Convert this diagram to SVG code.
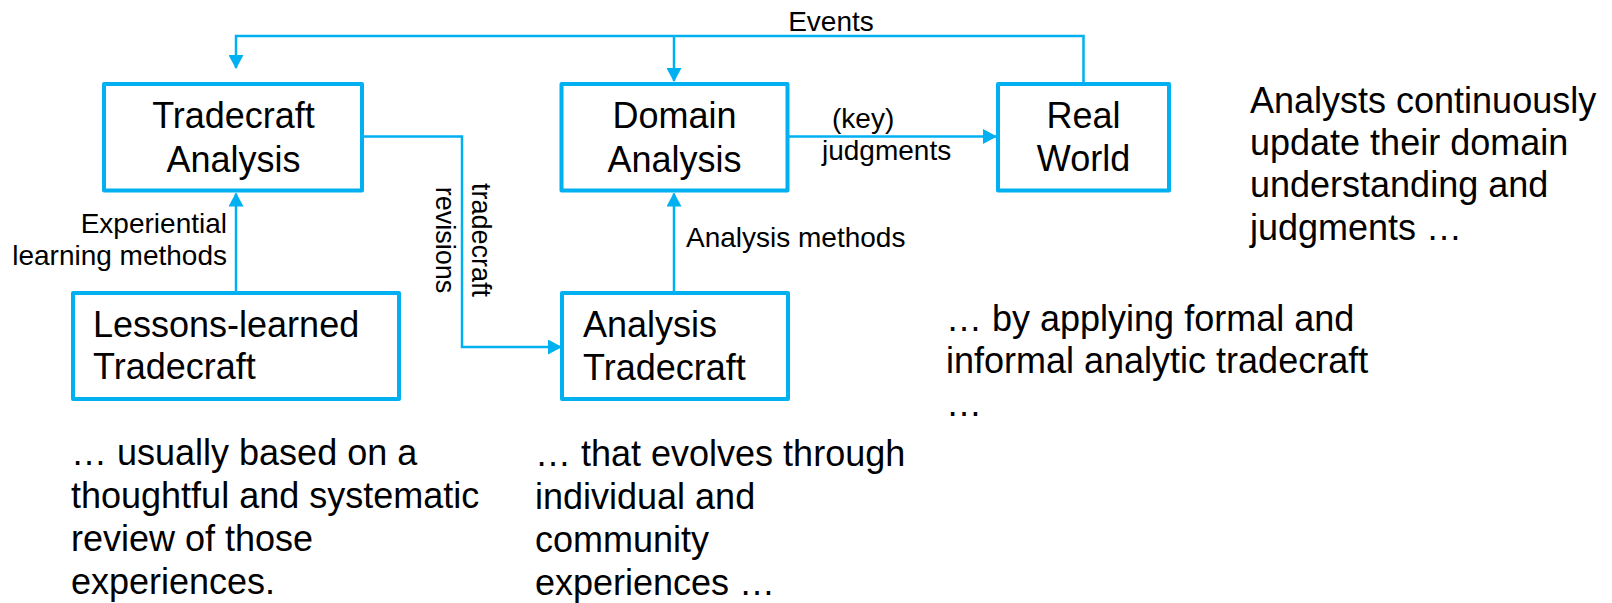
<svg xmlns="http://www.w3.org/2000/svg" width="1612" height="603" viewBox="0 0 1612 603">
<style>
  .box { fill: #FFFFFF; stroke: #00B0F0; stroke-width: 4; stroke-linejoin: round; }
  .conn { fill: none; stroke: #00B0F0; stroke-width: 2.5; }
  .t36 { font-family: "Liberation Sans", Arial, sans-serif; font-size: 36px; fill: #000000; }
  .t28 { font-family: "Liberation Sans", Arial, sans-serif; font-size: 28px; fill: #000000; }
  .t27 { font-family: "Liberation Sans", Arial, sans-serif; font-size: 27px; fill: #000000; }
  .mid { text-anchor: middle; }
  .end { text-anchor: end; }
</style>
<defs>
  <marker id="arrow" viewBox="0 0 14 15" refX="13" refY="7.5" markerWidth="14" markerHeight="15" markerUnits="userSpaceOnUse" orient="auto">
    <path d="M0,0 L14,7.5 L0,15 z" fill="#00B0F0"/>
  </marker>
</defs>
<rect width="1612" height="603" fill="#FFFFFF"/>

<g id="connectors">
  <path class="conn" d="M1083.5 84 V36 H236 V68" marker-end="url(#arrow)"/>
  <path class="conn" d="M674 36 V81" marker-end="url(#arrow)"/>
  <path class="conn" d="M787 136.5 H996" marker-end="url(#arrow)"/>
  <path class="conn" d="M362 136.5 H462 V347 H561" marker-end="url(#arrow)"/>
  <path class="conn" d="M236 293 V193.5" marker-end="url(#arrow)"/>
  <path class="conn" d="M674 293 V193.5" marker-end="url(#arrow)"/>
  <text class="t28 mid" x="831" y="31">Events</text>
  <text class="t28" x="832" y="128">(key)</text>
  <text class="t28" x="822" y="160">judgments</text>
  <text class="t28 end" x="227" y="233">Experiential</text>
  <text class="t28 end" x="227" y="265">learning methods</text>
  <text class="t28" x="686" y="247">Analysis methods</text>
  <text class="t27 mid" transform="translate(472,240) rotate(90)"><tspan x="0" y="0">tradecraft</tspan><tspan x="0" y="36">revisions</tspan></text>
</g>

<g id="tradecraft-analysis">
  <rect class="box" x="104" y="84" width="258" height="106.5"/>
  <text class="t36 mid" x="233.5" y="128">Tradecraft</text>
  <text class="t36 mid" x="233.5" y="172">Analysis</text>
</g>

<g id="domain-analysis">
  <rect class="box" x="561.5" y="84" width="226" height="106.5"/>
  <text class="t36 mid" x="674.5" y="128">Domain</text>
  <text class="t36 mid" x="674.5" y="172">Analysis</text>
</g>

<g id="real-world">
  <rect class="box" x="998" y="84" width="171" height="106.5"/>
  <text class="t36 mid" x="1083.5" y="128">Real</text>
  <text class="t36 mid" x="1083.5" y="171">World</text>
</g>

<g id="lessons-learned">
  <rect class="box" x="73" y="293" width="326" height="106"/>
  <text class="t36" x="93" y="337">Lessons-learned</text>
  <text class="t36" x="93" y="379">Tradecraft</text>
</g>

<g id="analysis-tradecraft">
  <rect class="box" x="562" y="293" width="226" height="106"/>
  <text class="t36" x="583" y="337">Analysis</text>
  <text class="t36" x="583" y="380">Tradecraft</text>
</g>

<g id="notes">
  <text class="t36" x="1250" y="113">Analysts continuously</text>
  <text class="t36" x="1250" y="155">update their domain</text>
  <text class="t36" x="1250" y="197">understanding and</text>
  <text class="t36" x="1250" y="240">judgments …</text>

  <text class="t36" x="946" y="331">… by applying formal and</text>
  <text class="t36" x="946" y="373">informal analytic tradecraft</text>
  <text class="t36" x="946" y="416">…</text>

  <text class="t36" x="71" y="465">… usually based on a</text>
  <text class="t36" x="71" y="508">thoughtful and systematic</text>
  <text class="t36" x="71" y="551">review of those</text>
  <text class="t36" x="71" y="594">experiences.</text>

  <text class="t36" x="535" y="466">… that evolves through</text>
  <text class="t36" x="535" y="509">individual and</text>
  <text class="t36" x="535" y="552">community</text>
  <text class="t36" x="535" y="595">experiences …</text>
</g>
</svg>
